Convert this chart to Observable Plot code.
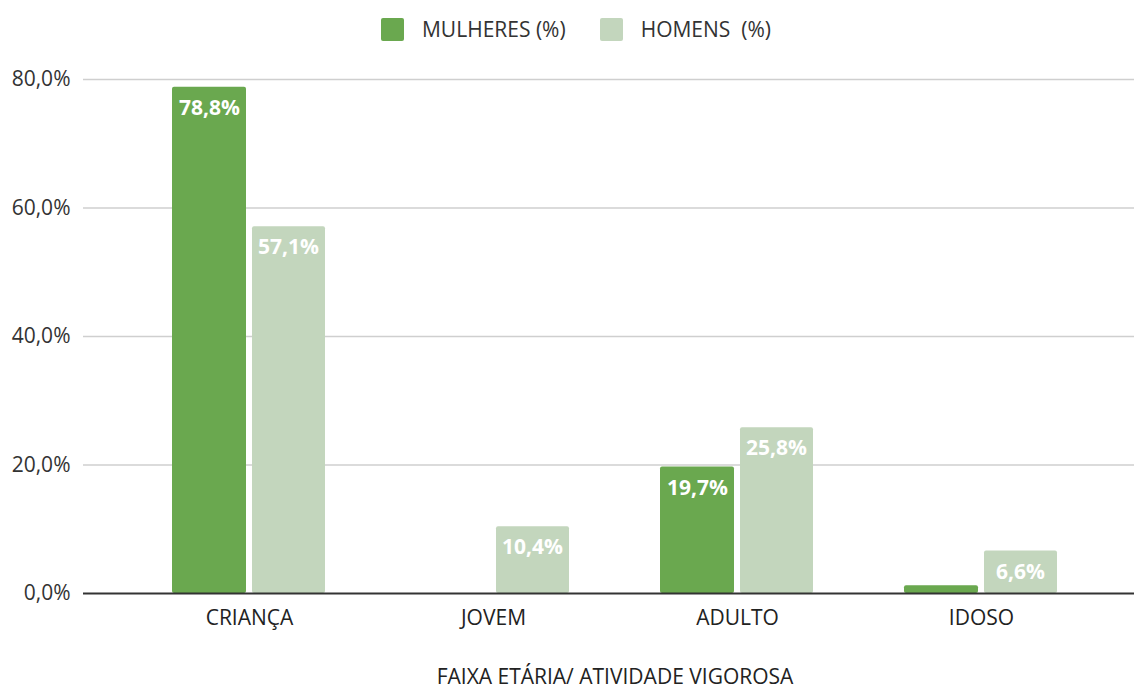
<!DOCTYPE html>
<html>
<head>
<meta charset="utf-8">
<script src="https://cdn.jsdelivr.net/npm/d3@7"></script>
<script src="https://cdn.jsdelivr.net/npm/@observablehq/plot@0.6"></script>
<style>
  body { margin: 0; background: #fff; font-family: "Open Sans", sans-serif; position: relative; width: 1134px; height: 688px; overflow: hidden; }
  #legend { height: 58px; display: flex; align-items: center; justify-content: center; padding-left: 18px; font-size: 21px; color: #333; }
  .item { display: flex; align-items: center; white-space: pre; }
  .sw { width: 23px; height: 23px; border-radius: 2px; margin-right: 18px; }
  #xtitle { position: absolute; left: 0; width: 1230px; text-align: center; top: 666px; font-size: 21px; color: #222; line-height: 21px; }
</style>
</head>
<body>
<div id="legend"></div>
<div id="chart"></div>
<div id="xtitle"></div>
<script>
const categories = ["CRIANÇA", "JOVEM", "ADULTO", "IDOSO"];
const seriesNames = ["MULHERES (%)", "HOMENS  (%)"];
const mulheres = [78.8, 0, 19.7, 1.2];
const homens = [57.1, 10.4, 25.8, 6.6];
const yTicks = [0, 20, 40, 60, 80];
const colors = ["#6aa84f", "#c3d6bd"];
const xTitle = "FAIXA ETÁRIA/ ATIVIDADE VIGOROSA";

const fmt = v => v.toFixed(1).replace(".", ",") + "%";

const legend = document.getElementById("legend");
seriesNames.forEach((s, i) => {
  const it = document.createElement("div");
  it.className = "item";
  it.style.marginRight = i === 0 ? "34px" : "0";
  const sw = document.createElement("div");
  sw.className = "sw";
  sw.style.background = colors[i];
  it.appendChild(sw);
  const t = document.createElement("span");
  t.textContent = s;
  it.appendChild(t);
  legend.appendChild(it);
});
document.getElementById("xtitle").textContent = xTitle;

const dataM = categories.map((c, i) => ({cat: c, v: mulheres[i]}));
const dataH = categories.map((c, i) => ({cat: c, v: homens[i]}));

const chart = Plot.plot({
  width: 1134,
  height: 630,
  marginLeft: 83,
  marginRight: 0,
  marginTop: 21,
  marginBottom: 95,
  style: {fontFamily: "Open Sans", fontSize: "21px", color: "#444"},
  x: {domain: categories, paddingInner: 0, paddingOuter: 0.145, align: 0.58, label: null},
  y: {domain: [0, 80], label: null},
  marks: [
    Plot.ruleY(yTicks.filter(d => d > 0), {stroke: "#cfcfcf", strokeWidth: 1.3}),
    Plot.barY(dataM, {x: "cat", y: "v", fill: colors[0], insetLeft: 45, insetRight: 125, rx: 2}),
    Plot.barY(dataH, {x: "cat", y: "v", fill: colors[1], insetLeft: 125, insetRight: 46, rx: 2}),
    Plot.ruleY([0], {stroke: "#333", strokeWidth: 2}),
    Plot.text(dataM.filter(d => d.v > 5), {x: "cat", y: "v", text: d => fmt(d.v), dx: -40, dy: 21, fill: "white", fontWeight: "bold", fontSize: 21}),
    Plot.text(dataH.filter(d => d.v > 5), {x: "cat", y: "v", text: d => fmt(d.v), dx: 39, dy: 21, fill: "white", fontWeight: "bold", fontSize: 21}),
    Plot.axisY({ticks: yTicks, tickFormat: fmt, tickSize: 0, tickPadding: 13, label: null, fill: "#333", fontSize: 21}),
    Plot.axisX({tickSize: 0, tickPadding: 17, label: null, fill: "#222", fontSize: 21})
  ]
});
document.getElementById("chart").appendChild(chart);
</script>
</body>
</html>
